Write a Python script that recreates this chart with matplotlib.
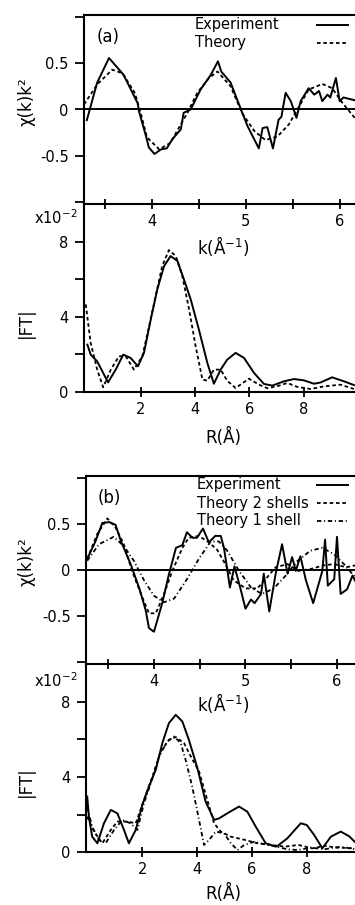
import matplotlib
matplotlib.use('Agg')
import matplotlib.pyplot as plt
from matplotlib.lines import Line2D
from matplotlib.ticker import FixedLocator, FixedFormatter, NullFormatter

# ---------------- data: panel (a) chi(k)k^2 ----------------
k_exp_a = [3.31, 3.42, 3.546, 3.70, 3.85, 3.865, 3.94, 3.97, 4.03, 4.10, 4.16, 4.22, 4.31,
           4.34, 4.415, 4.52, 4.63, 4.705, 4.74, 4.84, 4.95, 5.02, 5.14, 5.18, 5.23, 5.29,
           5.35, 5.38, 5.425, 5.48, 5.54, 5.585, 5.67, 5.73, 5.78, 5.815, 5.87, 5.90, 5.96,
           6.00, 6.04, 6.16]
chi_exp_a = [-0.115, 0.29, 0.556, 0.376, 0.07, -0.02, -0.29, -0.41, -0.48, -0.43, -0.42, -0.32,
             -0.215, -0.036, 0.0, 0.215, 0.376, 0.52, 0.41, 0.29, 0.0, -0.18, -0.42, -0.20,
             -0.19, -0.42, -0.11, -0.08, 0.18, 0.09, -0.09, 0.09, 0.23, 0.16, 0.20, 0.09,
             0.16, 0.13, 0.34, 0.09, 0.13, 0.10]
k_th_a = [3.28, 3.42, 3.58, 3.69, 3.82, 3.876, 3.95, 4.08, 4.20, 4.31, 4.38, 4.485, 4.61,
          4.70, 4.84, 4.96, 5.09, 5.21, 5.34, 5.46, 5.57, 5.67, 5.815, 5.92, 6.03, 6.16]
chi_th_a = [0.054, 0.27, 0.43, 0.39, 0.18, -0.01, -0.30, -0.43, -0.36, -0.16, -0.036, 0.18,
            0.34, 0.41, 0.25, -0.036, -0.23, -0.33, -0.29, -0.16, 0.036, 0.215, 0.276, 0.23,
            0.07, -0.09]

# ---------------- data: panel (a) |FT| (x10^-2) ----------------
r_exp_a = [0.04, 0.16, 0.40, 0.80, 1.08, 1.36, 1.63, 1.90, 2.12, 2.37, 2.61, 2.86, 3.10, 3.35,
           3.59, 3.84, 4.14, 4.45, 4.69, 4.94, 5.18, 5.49, 5.80, 6.17, 6.53, 6.84, 7.27, 7.64,
           8.00, 8.37, 8.60, 9.04, 9.47, 9.84]
ft_exp_a = [2.52, 1.99, 1.63, 0.51, 1.19, 1.99, 1.81, 1.37, 2.08, 3.86, 5.46, 6.70, 7.23, 6.97,
            5.99, 4.92, 3.32, 1.55, 0.44, 1.19, 1.72, 2.08, 1.81, 1.01, 0.43, 0.34, 0.57, 0.69,
            0.62, 0.44, 0.50, 0.78, 0.57, 0.37]
r_th_a = [-0.02, 0.16, 0.40, 0.62, 0.90, 1.20, 1.45, 1.75, 2.06, 2.31, 2.55, 2.79, 3.04, 3.29,
          3.53, 3.78, 4.02, 4.27, 4.45, 4.69, 4.94, 5.18, 5.49, 5.98, 6.35, 6.66, 7.00, 7.39,
          7.76, 8.25, 8.74, 9.35, 9.84]
ft_th_a = [4.66, 2.61, 1.19, 0.25, 1.19, 1.90, 1.90, 1.19, 1.90, 3.50, 5.10, 6.70, 7.55, 7.23,
           6.17, 4.39, 2.43, 0.66, 0.60, 1.19, 1.19, 0.60, 0.21, 0.71, 0.39, 0.20, 0.30, 0.48,
           0.27, 0.16, 0.30, 0.39, 0.16]

# ---------------- data: panel (b) chi(k)k^2 ----------------
k_exp_b = [3.27, 3.36, 3.435, 3.51, 3.58, 3.64, 3.745, 3.84, 3.91, 3.945, 4.0, 4.09, 4.16,
           4.24, 4.31, 4.36, 4.42, 4.47, 4.535, 4.60, 4.67, 4.73, 4.765, 4.83, 4.88, 4.95,
           5.0, 5.06, 5.10, 5.17, 5.20, 5.26, 5.33, 5.40, 5.46, 5.51, 5.55, 5.60, 5.66,
           5.74, 5.84, 5.87, 5.90, 5.97, 6.0, 6.04, 6.11, 6.17, 6.2]
chi_exp_b = [0.12, 0.31, 0.51, 0.52, 0.49, 0.31, 0.064, -0.20, -0.44, -0.63, -0.67, -0.36,
             -0.06, 0.24, 0.27, 0.41, 0.35, 0.35, 0.45, 0.30, 0.37, 0.37, 0.24, -0.19, 0.04,
             -0.22, -0.42, -0.32, -0.36, -0.26, -0.04, -0.45, -0.04, 0.28, -0.04, 0.14, -0.01,
             0.15, -0.11, -0.36, -0.01, 0.33, -0.17, -0.10, 0.36, -0.26, -0.21, -0.06, -0.12]
k_th2_b = [3.27, 3.38, 3.49, 3.58, 3.67, 3.76, 3.87, 3.945, 4.02, 4.11, 4.20, 4.31, 4.38,
           4.49, 4.60, 4.69, 4.78, 4.87, 5.0, 5.13, 5.22, 5.33, 5.46, 5.58, 5.71, 5.85, 5.97,
           6.10, 6.2]
chi_th2_b = [0.12, 0.39, 0.56, 0.46, 0.28, -0.01, -0.29, -0.47, -0.47, -0.26, -0.01, 0.24,
             0.35, 0.37, 0.30, 0.22, 0.064, -0.11, -0.20, -0.20, -0.10, 0.03, 0.064, -0.01,
             0.01, 0.05, 0.064, 0.03, 0.05]
k_th1_b = [3.27, 3.40, 3.56, 3.67, 3.78, 3.89, 4.0, 4.11, 4.22, 4.36, 4.49, 4.62, 4.71, 4.80,
           4.93, 5.06, 5.18, 5.31, 5.44, 5.57, 5.71, 5.84, 5.97, 6.08, 6.2]
chi_th1_b = [0.10, 0.28, 0.36, 0.26, 0.10, -0.11, -0.28, -0.35, -0.31, -0.10, 0.12, 0.31, 0.31,
             0.21, -0.01, -0.19, -0.26, -0.20, -0.06, 0.10, 0.21, 0.24, 0.17, 0.06, -0.08]

# ---------------- data: panel (b) |FT| (x10^-2) ----------------
r_exp_b = [-0.01, 0.05, 0.17, 0.36, 0.60, 0.85, 1.09, 1.33, 1.51, 1.76, 2.0, 2.24, 2.49, 2.73,
           2.97, 3.22, 3.46, 3.70, 4.01, 4.31, 4.62, 4.80, 5.10, 5.53, 5.83, 6.14, 6.50, 6.90,
           7.29, 7.78, 8.00, 8.27, 8.57, 8.88, 9.24, 9.55, 9.75]
ft_exp_b = [2.96, 1.89, 0.83, 0.48, 1.54, 2.25, 2.07, 1.19, 0.48, 1.19, 2.52, 3.49, 4.38, 5.80,
            6.86, 7.30, 6.95, 5.97, 4.47, 2.69, 1.72, 1.80, 2.07, 2.43, 2.16, 1.36, 0.48, 0.30,
            0.74, 1.54, 1.45, 0.92, 0.21, 0.83, 1.10, 0.85, 0.56]
r_th2_b = [-0.01, 0.24, 0.54, 0.85, 1.09, 1.46, 1.76, 2.06, 2.37, 2.67, 2.97, 3.22, 3.52, 3.77,
           4.07, 4.37, 4.62, 4.86, 5.23, 5.71, 6.20, 6.69, 7.20, 7.70, 8.20, 8.66, 9.10, 9.75]
ft_th2_b = [1.89, 1.10, 0.48, 1.19, 1.63, 1.63, 1.54, 2.78, 4.02, 5.35, 5.97, 6.12, 5.80, 5.09,
            4.29, 2.78, 1.54, 1.10, 0.83, 0.67, 0.48, 0.39, 0.30, 0.39, 0.21, 0.34, 0.25, 0.21]
r_th1_b = [-0.01, 0.17, 0.42, 0.66, 0.97, 1.27, 1.57, 1.82, 2.06, 2.31, 2.61, 2.91, 3.16, 3.40,
           3.58, 3.82, 4.07, 4.25, 4.43, 4.68, 4.98, 5.23, 5.47, 5.72, 6.08, 6.45, 6.88, 7.30,
           7.67, 8.15, 8.64, 9.24, 9.75]
ft_th1_b = [2.40, 1.36, 0.65, 0.48, 1.19, 1.72, 1.54, 1.19, 2.61, 3.67, 5.09, 5.88, 6.15, 5.80,
            4.91, 3.49, 1.72, 0.39, 0.65, 1.10, 1.01, 0.48, 0.12, 0.39, 0.56, 0.43, 0.30, 0.16,
            0.12, 0.25, 0.16, 0.30, 0.16]

# tick values / labels
chi_yticks = [-1.0, -0.5, 0.0, 0.5, 1.0]
chi_ylabels = ['', '-0.5', '0', '0.5', '']
k_major = [4, 5, 6]
k_minor = [3.5, 4.5, 5.5]
ft_yticks = [0, 2, 4, 6, 8]
ft_ylabels = ['0', '', '4', '', '8']
r_ticks = [2, 4, 6, 8]

legend_a = ['Experiment', 'Theory']
legend_b = ['Experiment', 'Theory 2 shells', 'Theory 1 shell']

# ---------------- styling ----------------
plt.rcParams['font.family'] = ['DejaVu Sans']
W, H = 355, 905
FS = 10.5
LFS = 12
LW = 1.4
SOLID = dict(color='black', lw=LW, ls='-')
DASH = dict(color='black', lw=1.3, ls=(0, (2.0, 1.5)))
DDOT = dict(color='black', lw=1.3, ls=(0, (2.4, 1.5, 0.6, 1.5)))

fig = plt.figure(figsize=(W / 100, H / 100), dpi=100)


def rect(x0, y0, x1, y1):
    return [x0 / W, 1 - y1 / H, (x1 - x0) / W, (y1 - y0) / H]


def ftxt(x, y, s, **kw):
    fig.text(x / W, 1 - y / H, s, **kw)


def style_common(ax):
    ax.patch.set_visible(False)
    ax.spines['right'].set_visible(False)
    for s in ('left', 'top', 'bottom'):
        ax.spines[s].set_linewidth(1.5)
    ax.tick_params(axis='y', which='both', direction='out', length=6.5, width=1.3,
                   pad=4.5, labelsize=FS, left=True, right=False)


def chi_axes(pos, xlim):
    ax = fig.add_axes(pos)
    style_common(ax)
    ax.set_zorder(3)
    ax.set_xlim(*xlim)
    ax.set_ylim(-1.02, 1.02)
    ax.yaxis.set_major_locator(FixedLocator(chi_yticks))
    ax.yaxis.set_major_formatter(FixedFormatter(chi_ylabels))
    ax.xaxis.set_major_locator(FixedLocator(k_major))
    ax.xaxis.set_minor_locator(FixedLocator(k_minor))
    ax.xaxis.set_minor_formatter(NullFormatter())
    ax.tick_params(axis='x', which='both', direction='inout', length=7.5, width=1.3,
                   pad=3.2, labelsize=FS, top=False, bottom=True)
    ax.axhline(0, color='black', lw=1.4, zorder=1)
    return ax


def ft_axes(pos, xlim):
    ax = fig.add_axes(pos)
    style_common(ax)
    ax.set_zorder(2)
    ax.spines['top'].set_visible(False)
    ax.set_xlim(*xlim)
    ax.set_ylim(0, 10.0)
    ax.yaxis.set_major_locator(FixedLocator(ft_yticks))
    ax.yaxis.set_major_formatter(FixedFormatter(ft_ylabels))
    ax.xaxis.set_major_locator(FixedLocator(r_ticks))
    ax.tick_params(axis='x', which='both', direction='inout', length=7.5, width=1.3,
                   pad=3.2, labelsize=FS, top=False, bottom=True)
    return ax


# ---------------- panel (a) ----------------
ax1 = chi_axes(rect(84, 15, 355, 204), (3.28, 6.163))
ax1.plot(k_exp_a, chi_exp_a, **SOLID)
ax1.plot(k_th_a, chi_th_a, **DASH)

ax2 = ft_axes(rect(84, 204, 355, 392), (-0.085, 9.88))
ax2.plot(r_exp_a, ft_exp_a, **SOLID)
ax2.plot(r_th_a, ft_th_a, **DASH)

# ---------------- panel (b) ----------------
ax3 = chi_axes(rect(86, 476, 355, 664), (3.257, 6.197))
ax3.plot(k_exp_b, chi_exp_b, **SOLID)
ax3.plot(k_th2_b, chi_th2_b, **DASH)
ax3.plot(k_th1_b, chi_th1_b, **DDOT)

ax4 = ft_axes(rect(86, 664, 355, 852.3), (-0.055, 9.76))
ax4.plot(r_exp_b, ft_exp_b, **SOLID)
ax4.plot(r_th2_b, ft_th2_b, **DASH)
ax4.plot(r_th1_b, ft_th1_b, **DDOT)

# ---------------- texts ----------------
for yc in (102, 562):
    ftxt(26, yc, '\u03c7(k)k\u00b2', rotation=90, ha='center', va='center', fontsize=LFS)
for yc in (323, 782):
    ftxt(26, yc, '|FT|', rotation=90, ha='center', va='center', fontsize=LFS)
for yc in (218, 681):
    ftxt(77, yc, 'x10$^{\\mathregular{-2}}$', ha='right', va='center', fontsize=FS)
for yc in (246, 703):
    ftxt(223, yc, 'k(\u00c5$^{\\mathregular{-1}}$)', ha='center', va='center', fontsize=LFS)
for yc in (437, 893):
    ftxt(223, yc, 'R(\u00c5)', ha='center', va='center', fontsize=LFS)
ftxt(97, 37, '(a)', ha='left', va='center', fontsize=LFS)
ftxt(98, 498, '(b)', ha='left', va='center', fontsize=LFS)

# ---------------- legends (key samples) ----------------
def key(x_text, y_row, label, style):
    ftxt(x_text, y_row, label, ha='left', va='center', fontsize=FS)
    fig.add_artist(Line2D([317 / W, 348 / W], [1 - y_row / H, 1 - y_row / H],
                          transform=fig.transFigure, **style))

for lab, yr, st in zip(legend_a, (25, 43), (SOLID, DASH)):
    key(195, yr, lab, st)
for lab, yr, st in zip(legend_b, (485, 503, 521), (SOLID, DASH, DDOT)):
    key(197, yr, lab, st)

fig.savefig('out.png', dpi=100, facecolor='white')
